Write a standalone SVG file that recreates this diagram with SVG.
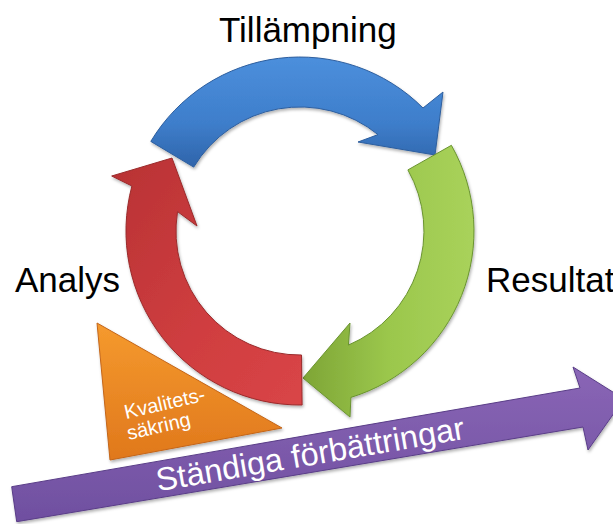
<svg xmlns="http://www.w3.org/2000/svg" width="613" height="524" viewBox="0 0 613 524">
<style>
.lbl{font-family:"Liberation Sans",Arial,sans-serif;font-size:35px;fill:#000}
.wt{font-family:"Liberation Sans",Arial,sans-serif;fill:#fff}
.shape{stroke-width:1;stroke-linejoin:round;filter:url(#sh)}
</style>
<defs>
<filter id="sh" x="-10%" y="-10%" width="120%" height="130%">
<feDropShadow dx="1" dy="2" stdDeviation="1.5" flood-color="#000" flood-opacity="0.3"/>
</filter>
<linearGradient id="gB" x1="0" y1="0" x2="0" y2="1"><stop offset="0" stop-color="#4c8fdc"/><stop offset="0.6" stop-color="#3e7ecb"/><stop offset="1" stop-color="#2f64aa"/></linearGradient>
<linearGradient id="gG" x1="0" y1="0" x2="1" y2="0"><stop offset="0" stop-color="#7ea536"/><stop offset="0.5" stop-color="#9bc74c"/><stop offset="1" stop-color="#a9d25b"/></linearGradient>
<linearGradient id="gR" x1="0" y1="0" x2="1" y2="1"><stop offset="0" stop-color="#b83234"/><stop offset="0.6" stop-color="#d03e40"/><stop offset="1" stop-color="#d94547"/></linearGradient>
<linearGradient id="gO" x1="0" y1="0" x2="0" y2="1"><stop offset="0" stop-color="#f59a2e"/><stop offset="1" stop-color="#e0781c"/></linearGradient>
<linearGradient id="gP" x1="0" y1="0" x2="0" y2="1"><stop offset="0" stop-color="#8a66b6"/><stop offset="1" stop-color="#6f4fa0"/></linearGradient>
</defs>
<rect width="613" height="524" fill="#fff"/>
<g id="connectors">
<g id="arrow-tillampning">
<path class="shape" fill="url(#gB)" stroke="#2d5e9e" d="M150.8,141.4 A174,174 0 0 1 423,108 L443,92 L435,155 L358,142 L378,134.6 A124,124 0 0 0 193.7,167.1 Z"/>
</g>
<g id="arrow-resultat">
<path class="shape" fill="url(#gG)" stroke="#6a9430" d="M451.4,145.3 A174,174 0 0 1 350.9,397.4 L350,417 L303,378 L350,323 L348.4,345.1 A124,124 0 0 0 407.9,169.9 Z"/>
</g>
<g id="arrow-analys">
<path class="shape" fill="url(#gR)" stroke="#9a2a2b" d="M302.1,405 A174,174 0 0 1 131.9,186 L111.7,176 L172,158 L197,226 L177.5,211.6 A124,124 0 0 0 301.5,355 Z"/>
</g>
</g>
<g id="node-kvalitetssakring">
<path class="shape" fill="url(#gO)" stroke="#c4661a" d="M97,323 L282,428 L110,460 Z"/>
<text class="wt" font-size="20" transform="translate(126,419) rotate(-13)"><tspan x="0" y="0">Kvalitets-</tspan><tspan x="-2" y="21">säkring</tspan></text>
</g>
<g id="node-standiga">
<path class="shape" fill="url(#gP)" stroke="#5a3e88" d="M11.7,486.7 L580,388 L573,367 L624,399 L588,450 L583,427 L16.7,521.7 Z"/>
<text class="wt" font-size="32.5" text-anchor="middle" transform="translate(310,453.7) rotate(-9.7)" y="11.5">Ständiga förbättringar</text>
</g>
<g id="label-tillampning"><text class="lbl" x="219" y="42">Tillämpning</text></g>
<g id="label-analys"><text class="lbl" x="15" y="292">Analys</text></g>
<g id="label-resultat"><text class="lbl" x="486" y="292">Resultat</text></g>
</svg>
